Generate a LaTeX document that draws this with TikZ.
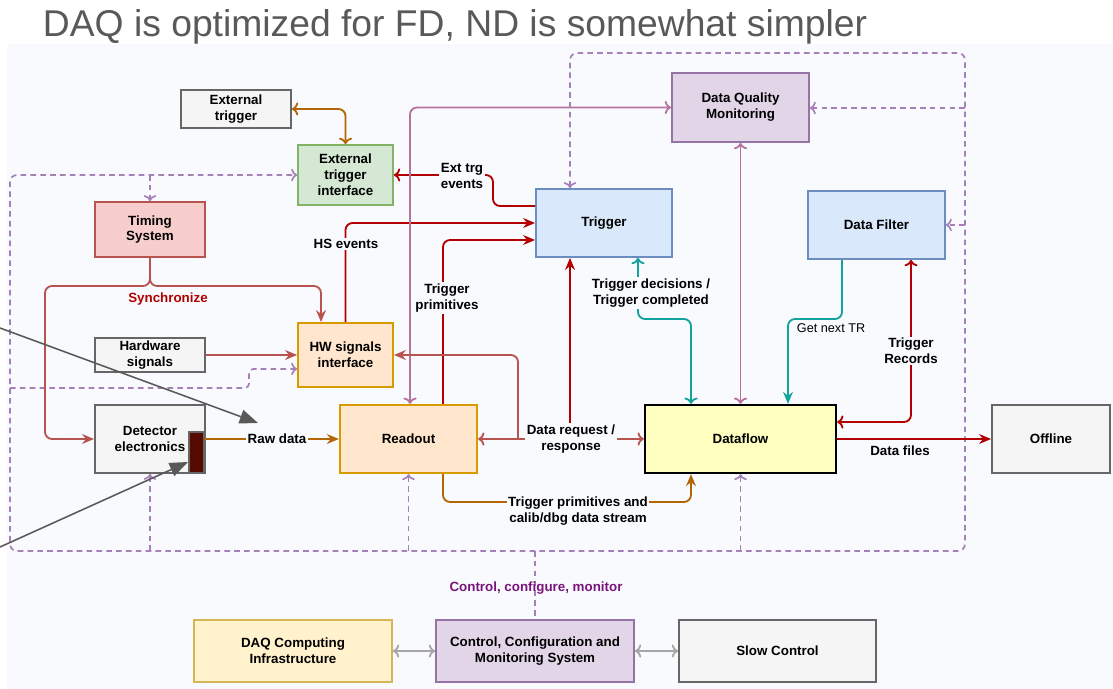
\documentclass[tikz,border=0pt]{standalone}
\usepackage{fontspec}
\setmainfont{Liberation Sans}
\usetikzlibrary{arrows.meta}
\definecolor{bgc}{HTML}{F8FAFD}
\definecolor{grayln}{HTML}{666666}
\definecolor{grayfl}{HTML}{F5F5F5}
\definecolor{grnln}{HTML}{82B366}
\definecolor{grnfl}{HTML}{D5E8D4}
\definecolor{redln}{HTML}{B85450}
\definecolor{redfl}{HTML}{F8CECC}
\definecolor{orgln}{HTML}{D79B00}
\definecolor{orgfl}{HTML}{FFE6CC}
\definecolor{bluln}{HTML}{6C8EBF}
\definecolor{blufl}{HTML}{DAE8FC}
\definecolor{purln}{HTML}{9673A6}
\definecolor{purfl}{HTML}{E1D5E7}
\definecolor{yelln}{HTML}{D6B656}
\definecolor{yelfl}{HTML}{FFF2CC}
\definecolor{dflfl}{HTML}{FFFFC0}
\definecolor{dred}{HTML}{B20000}
\definecolor{brn}{HTML}{B46504}
\definecolor{tealc}{HTML}{12A39C}
\definecolor{pnk}{HTML}{B5739D}
\definecolor{ctlc}{HTML}{A680B8}
\definecolor{ccmtxt}{HTML}{7A137A}
\definecolor{titlec}{HTML}{595959}
\definecolor{tagc}{HTML}{560B00}

\begin{document}
\begin{tikzpicture}[x=0.025cm,y=-0.025cm]
      \tikzset{blk/.style 2 args={draw=#1, fill=#2, line width=1.3pt,
          align=center, inner sep=0pt,
          font=\bfseries\fontsize{9.5}{11.3}\selectfont},
        lbl/.style={fill=bgc, inner sep=1pt, align=center,
          font=\bfseries\fontsize{9.5}{11.3}\selectfont},
        link/.style={line width=1.3pt, rounded corners=5pt,
          arrows={-Stealth[length=8.5pt,width=7pt]}},
        ctl/.style={link, draw=ctlc, line width=1.2pt, dash pattern=on 4pt off 3pt},
        note/.style={draw=titlec, line width=1.1pt,
          -{Triangle[length=13pt,width=10pt]}}
      }
      \useasboundingbox (0,0) rectangle (1113,689);
      \fill[bgc] (7,44) rectangle (1113,689);
      \node[anchor=base west, text=titlec, font=\fontsize{26.5}{30}\selectfont]
        (title) at (38,37) {DAQ is optimized for FD, ND is somewhat simpler};

      % blocks
      \node[blk={grayln}{grayfl}, minimum width=2.75cm, minimum height=0.95cm] (ext) at (236,109) {External\\trigger};
      \node[blk={grnln}{grnfl}, minimum width=2.375cm, minimum height=1.5cm] (eti) at (345.5,175) {External\\trigger\\interface};
      \node[blk={redln}{redfl}, minimum width=2.75cm, minimum height=1.375cm] (tim) at (150,229.5) {Timing\\System};
      \node[blk={grayln}{grayfl}, minimum width=2.75cm, minimum height=0.85cm] (hws) at (150,355) {Hardware\\signals};
      \node[blk={orgln}{orgfl}, minimum width=2.375cm, minimum height=1.6cm] (hwi) at (345.5,355) {HW signals\\interface};
      \node[blk={grayln}{grayfl}, minimum width=2.75cm, minimum height=1.7cm] (det) at (150,439) {Detector\\electronics};
      \node[draw=grayln, fill=tagc, line width=1.3pt, minimum width=0.375cm, minimum height=1.025cm, inner sep=0pt] (dtag) at (196.5,452.5) {};
      \node[blk={orgln}{orgfl}, line width=1.6pt, minimum width=3.425cm, minimum height=1.7cm] (ro) at (408.5,439) {Readout};
      \node[blk={bluln}{blufl}, minimum width=3.4cm, minimum height=1.7cm] (trg) at (604,223) {Trigger};
      \node[blk={purln}{purfl}, minimum width=3.425cm, minimum height=1.725cm] (dqm) at (740.5,107.5) {Data Quality\\Monitoring};
      \node[blk={bluln}{blufl}, minimum width=3.425cm, minimum height=1.7cm] (dflt) at (876.5,225) {Data Filter};
      \node[blk={black}{dflfl}, line width=1.6pt, minimum width=4.775cm, minimum height=1.7cm] (df) at (740.5,439) {Dataflow};
      \node[blk={grayln}{grayfl}, minimum width=2.95cm, minimum height=1.7cm] (off) at (1051,439) {Offline};
      \node[blk={yelln}{yelfl}, minimum width=4.95cm, minimum height=1.55cm] (daq) at (293,651) {DAQ Computing\\Infrastructure};
      \node[blk={purln}{purfl}, minimum width=4.95cm, minimum height=1.55cm] (ccm) at (535,651) {Control, Configuration and\\Monitoring System};
      \node[blk={grayln}{grayfl}, minimum width=4.925cm, minimum height=1.55cm] (slow) at (777.5,651) {Slow Control};

      % control, configure, monitor (dashed)
      \draw[ctl, <->] (trg.north -| 570,0) |- (965,53) |- (10,551) |- (eti.west);
      \draw[ctl, ->] (150,175) -- (tim.north);
      \draw[ctl, ->] (965,108) -- (dqm.east |- 0,108);
      \draw[ctl, ->] (965,225) -- (dflt.east);
      \draw[ctl, ->, rounded corners=3pt] (10,388) -| (249,369) -- (hwi.west |- 0,369);
      \draw[ctl, ->] (150,551) -- (det.south);
      \draw[ctl, ->] (408.5,551) -- (ro.south);
      \draw[ctl, ->] (740.5,551) -- (df.south);
      \draw[ctl, -] (535,551) -- (ccm.north);
      \node[text=ccmtxt, font=\bfseries\fontsize{9.5}{11.3}\selectfont] (ccmlbl) at (536,588) {Control, configure, monitor};

      % data and trigger paths
      \draw[link, draw=brn, <->] (ext.east) -| (eti.north);
      \draw[link, draw=dred, <-] (eti.east) -| (493,206) -- (trg.west |- 0,206);
      \node[lbl] (etlbl) at (462,176) {Ext trg\\events};
      \draw[link, draw=dred] (hwi.north) |- (trg.west |- 0,223);
      \node[lbl] (hslbl) at (346,244) {HS events};
      \draw[link, draw=dred] (ro.north -| 443,0) |- (trg.west |- 0,240);
      \node[lbl] (tplbl) at (447,298) {Trigger\\primitives};
      \draw[link, draw=pnk, <->] (dqm.west) -| (ro.north -| 410,0);
      \draw[link, draw=pnk, <->] (dqm.south) -- (df.north);

      \draw[link, draw=redln] (tim.south) |- (45,286) |- (det.west);
      \draw[link, draw=redln] (tim.south) |- (321,286) -- (hwi.north -| 321,0);
      \node[text=dred, font=\bfseries\fontsize{9.5}{11.3}\selectfont] (synclbl) at (168,299) {Synchronize};
      \draw[link, draw=redln] (hws.east) -- (hwi.west |- hws.east);

      \draw[link, draw=brn] (dtag.east |- ro.west) -- (ro.west);
      \node[lbl] (rawlbl) at (277,439) {Raw data};

      \draw[link, draw=redln, <->] (ro.east) -- (df.west);
      \draw[link, draw=redln] (518,439) |- (hwi.east);
      \draw[link, draw=dred] (570,439) -- (trg.south -| 570,0);
      \node[lbl] (reqlbl) at (571,439) {Data request /\\response};

      \draw[link, draw=brn] (ro.south -| 443,0) |- (691,502) -- (df.south -| 691,0);
      \node[lbl] (streamlbl) at (578,511) {Trigger primitives and\\calib/dbg data stream};

      \draw[link, draw=tealc, <->] (trg.south -| 638,0) |- (691,319) -- (df.north -| 691,0);
      \node[lbl] (declbl) at (651,293) {Trigger decisions /\\Trigger completed};
      \draw[link, draw=tealc] (dflt.south -| 842,0) |- (788,319) -- (df.north -| 788,0);
      \node[anchor=west, font=\fontsize{9}{11}\selectfont] (nextlbl) at (792,328) {Get next TR};
      \draw[link, draw=dred, <->] (df.east |- 0,422) -| (dflt.south -| 911,0);
      \node[lbl] (trlbl) at (911,351) {Trigger\\Records};

      \draw[link, draw=dred] (df.east) -- (off.west);
      \node[font=\bfseries\fontsize{9.5}{11.3}\selectfont] (fileslbl) at (900,451) {Data files};

      \draw[link, draw=gray!70, <->] (daq.east) -- (ccm.west);
      \draw[link, draw=gray!70, <->] (ccm.east) -- (slow.west);

      % pointers from the slide
      \coordinate (p1) at (0,328);
      \coordinate (p2) at (0,547);
      \draw[note] (p1) -- (258,423);
      \draw[note] (p2) -- (188,462);
    \end{tikzpicture}
\end{document}
